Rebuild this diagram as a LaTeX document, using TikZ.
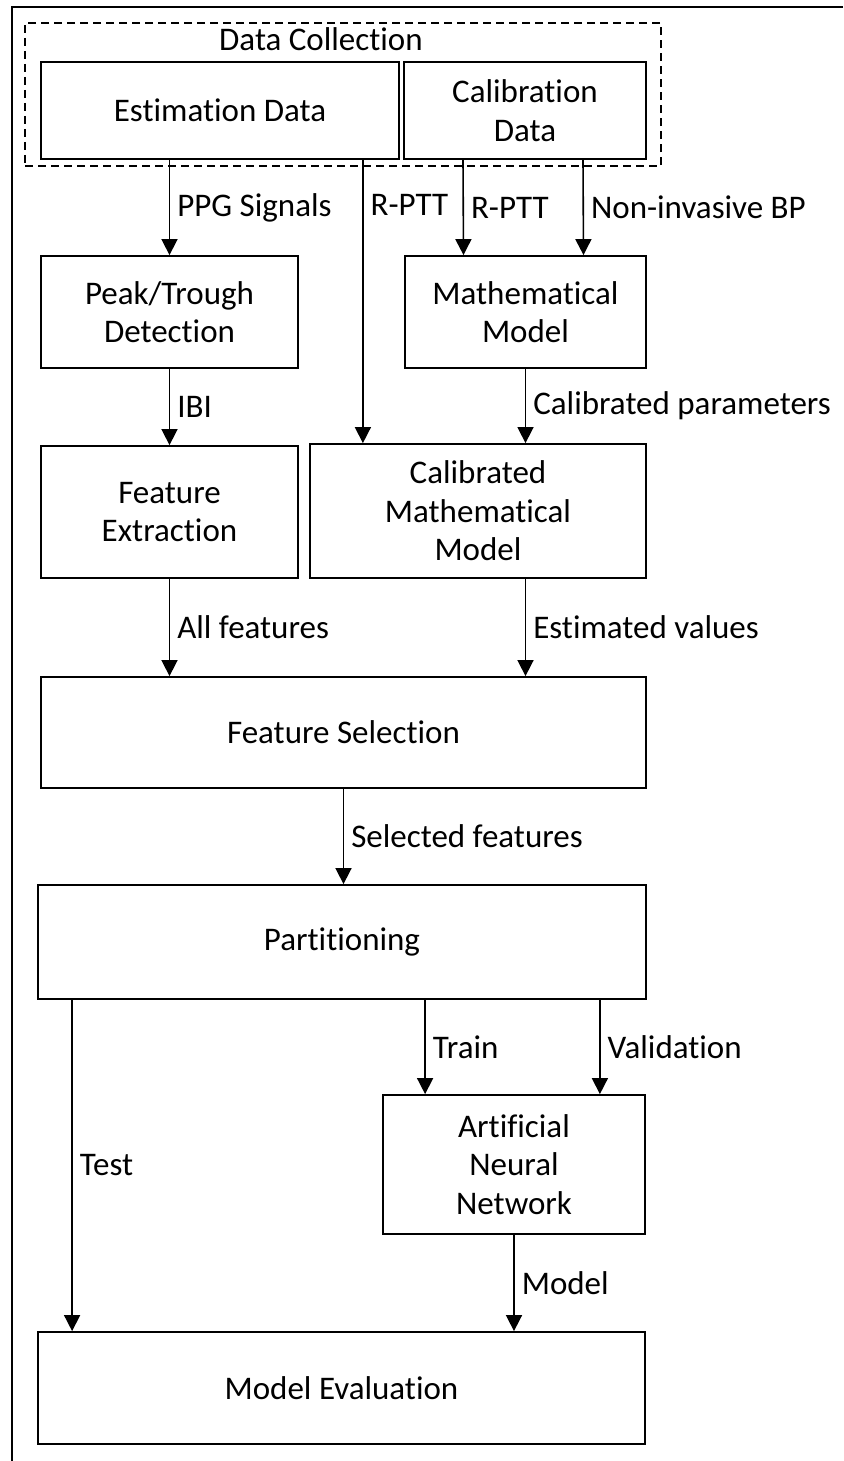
\documentclass[tikz,border=0pt]{standalone}
\usepackage{fontspec}
\setmainfont{Carlito}[RawFeature={-liga;-clig;-dlig;-calt}]
\usetikzlibrary{arrows.meta}

\begin{document}
\begin{tikzpicture}[
      x=1pt, y=-1pt,
      every node/.style={font=\fontsize{33}{38.5}\selectfont},
      box/.style={draw, line width=1.8pt, align=center, inner sep=0pt},
      group/.style={draw, line width=1.4pt, dash pattern=on 8pt off 5pt, inner sep=0pt},
      arrow/.style={-{Triangle[length=16pt,width=16pt]}, line width=1.6pt},
      lbl/.style={anchor=west, inner sep=0pt, xshift=7pt},
   ]
   \useasboundingbox (0,0) rectangle (843,1461);
   % outer frame
   \draw[line width=1.8pt] (843,7) -- (12,7) -- (12,1461);

   % Data collection
   \node[group, minimum width=636pt, minimum height=143pt] (collect) at (343,94.5) {};
   \node[inner sep=0pt] (collecttitle) at (321,39) {Data Collection};
   \node[box, minimum width=358pt, minimum height=97pt] (est) at (220,110.5) {Estimation Data};
   \node[box, minimum width=242pt, minimum height=97pt] (calib) at (525,110.5) {Calibration\\Data};

   % Processing
   \node[box, minimum width=257pt, minimum height=112pt] (peak) at (169.5,312) {Peak/Trough\\Detection};
   \node[box, minimum width=241pt, minimum height=112pt] (math) at (525.5,312) {Mathematical\\Model};
   \node[box, minimum width=257pt, minimum height=132pt] (featx) at (169.5,512) {Feature\\Extraction};
   \node[box, minimum width=336pt, minimum height=134pt] (calmm) at (478,511) {Calibrated\\Mathematical\\Model};
   \node[box, minimum width=605pt, minimum height=111pt] (featsel) at (343.5,732.5) {Feature Selection};
   \node[box, minimum width=608pt, minimum height=114pt] (part) at (342,942) {Partitioning};
   \node[box, minimum width=262pt, minimum height=139pt] (ann) at (514,1164.5) {Artificial\\Neural\\Network};
   \node[box, minimum width=607pt, minimum height=112pt] (eval) at (341.5,1388) {Model Evaluation};

   \coordinate (rptt) at ([xshift=-37pt]est.south east);
   \coordinate (testx) at ([xshift=35pt]part.south west);
   \coordinate (trainx) at ([xshift=43pt]ann.north west);
   \coordinate (valx) at ([xshift=-46pt]ann.north east);

   % Estimation path
   \draw[arrow] (est.south -| peak.north) -- (peak.north) node[lbl, midway] {PPG Signals};
   \draw[arrow] (rptt) -- (rptt |- calmm.north) node[lbl, pos=0.16] {R-PTT};
   \draw[arrow] (peak.south) -- (featx.north) node[lbl, midway] {IBI};

   % Calibration path
   \draw[arrow] ([xshift=-62pt]calib.south) -- ([xshift=-62pt]math.north) node[lbl, midway] {R-PTT};
   \draw[arrow] ([xshift=58pt]calib.south) -- ([xshift=58pt]math.north) node[lbl, midway] {Non-invasive BP};
   \draw[arrow] (math.south) -- (math.south |- calmm.north) node[lbl, midway] {Calibrated parameters};

   % Features and model
   \draw[arrow] (featx.south) -- (featx.south |- featsel.north) node[lbl, midway] {All features};
   \draw[arrow] (calmm.south -| math.south) -- (math.south |- featsel.north) node[lbl, midway] {Estimated values};
   \draw[arrow] (featsel.south) -- (featsel.south |- part.north) node[lbl, midway] {Selected features};
   \draw[arrow] (testx) -- (testx |- eval.north) node[lbl, midway] {Test};
   \draw[arrow] (trainx |- part.south) -- (trainx) node[lbl, midway] {Train};
   \draw[arrow] (valx |- part.south) -- (valx) node[lbl, midway] {Validation};
   \draw[arrow] (ann.south) -- (ann.south |- eval.north) node[lbl, midway] {Model};
\end{tikzpicture}
\end{document}
